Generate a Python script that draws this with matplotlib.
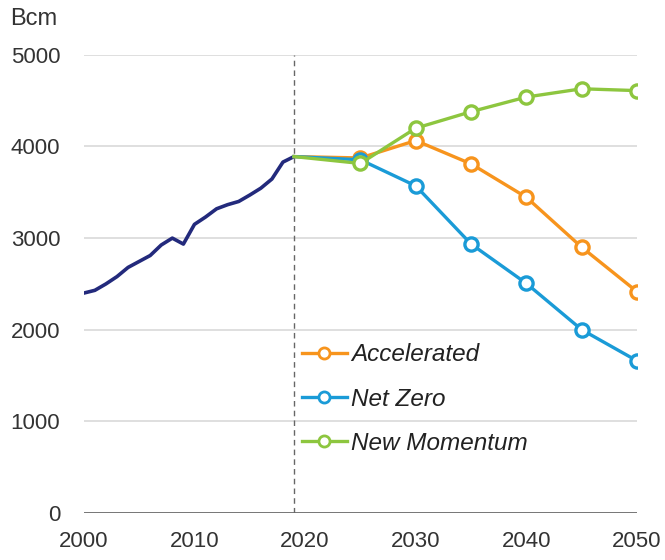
import matplotlib
matplotlib.use("Agg")
import matplotlib.pyplot as plt

plt.rcParams["font.family"] = ["Liberation Sans", "DejaVu Sans"]

# historical demand, Bcm
hist_years = list(range(2000, 2020))
hist_vals = [2400, 2430, 2500, 2580, 2680, 2745, 2810, 2925, 3000, 2935,
             3150, 3230, 3320, 3365, 3400, 3470, 3545, 3645, 3830, 3890]

# scenarios start at 2019
scen_years = [2019, 2025, 2030, 2035, 2040, 2045, 2050]
accelerated = [3890, 3875, 4065, 3810, 3445, 2900, 2415]
net_zero = [3890, 3855, 3570, 2935, 2505, 2000, 1660]
new_momentum = [3890, 3815, 4200, 4380, 4540, 4630, 4610]

scenario_names = ["Accelerated", "Net Zero", "New Momentum"]
scenario_colors = ["#f7941d", "#1a9bd7", "#8dc63f"]
hist_color = "#232a7c"

fig = plt.figure(figsize=(6.65, 5.6), dpi=100)
ax = fig.add_axes([0.126, 0.084, 0.832, 0.818])

for y in [1000, 2000, 3000, 4000, 5000]:
    ax.axhline(y, color="#dcdcdc", lw=1.3, zorder=0)
ax.axhline(0, color="#4d4d4d", lw=1.8, zorder=1)
ax.axvline(2019, color="#666666", lw=1.0, ls=(0, (4, 3)), zorder=1)

ax.plot(hist_years, hist_vals, color=hist_color, lw=2.6, solid_capstyle="round", zorder=3)

for vals, name, c in zip([accelerated, net_zero, new_momentum], scenario_names, scenario_colors):
    ax.plot(scen_years, vals, color=c, lw=2.4, label=name, zorder=4,
            marker="o", markevery=list(range(1, len(vals))), ms=9.5,
            mfc="white", mec=c, mew=2.4)

ax.set_xlim(2000, 2050)
ax.set_ylim(0, 5000)
ax.set_xticks([2000, 2010, 2020, 2030, 2040, 2050])
ax.set_yticks([0, 1000, 2000, 3000, 4000, 5000])
ax.tick_params(axis="both", length=0, labelsize=16, labelcolor="#333333")
ax.tick_params(axis="x", pad=13)
ax.tick_params(axis="y", pad=17)
for s in ax.spines.values():
    s.set_visible(False)

fig.text(0.015, 0.985, "Bcm", fontsize=17, color="#333333", va="top", ha="left")

leg = ax.legend(loc="upper left", bbox_to_anchor=(0.376, 0.392), frameon=False,
                fontsize=17.5, handlelength=1.85, handletextpad=0.2,
                labelspacing=0.88, borderaxespad=0)
for t in leg.get_texts():
    t.set_fontstyle("italic")
    t.set_color("#222222")
for h in leg.legend_handles:
    h.set_markersize(8)
    h.set_markeredgewidth(2)

fig.savefig("out.png", dpi=100)
